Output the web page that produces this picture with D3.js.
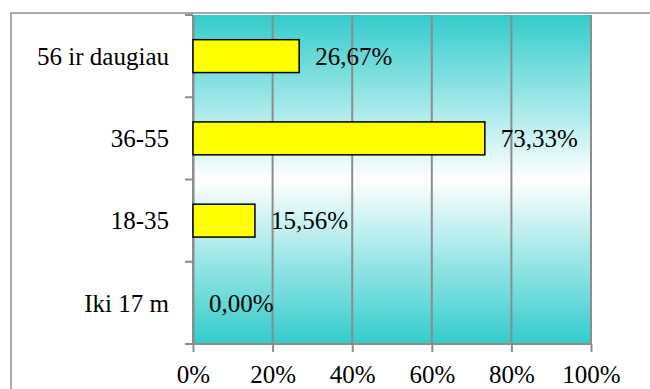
<!DOCTYPE html>
<html>
<head>
<meta charset="utf-8">
<script src="https://cdn.jsdelivr.net/npm/d3@7"></script>
<style>
  html, body { margin: 0; padding: 0; background: #fff; }
  svg { display: block; }
  svg text { font-family: "Times New Roman", "Liberation Serif", Tinos, "DejaVu Serif", serif !important; fill: #000; }
</style>
</head>
<body>
<svg id="chart" width="650" height="389"></svg>
<script>
// Age groups, top to bottom
const categories = ["56 ir daugiau", "36-55", "18-35", "Iki 17 m"];
// Share of respondents (%)
const values = [26.67, 73.33, 15.56, 0.00];
// X axis ticks (%)
const xTicks = [0, 20, 40, 60, 80, 100];

const W = 650, H = 389;
const plot = { left: 193, top: 15, right: 591, bottom: 344 };
const fontSize = 25;

const svg = d3.select("#chart");

// Gradient fill of the plot area: cyan at edges, white in the middle
const defs = svg.append("defs");
const grad = defs.append("linearGradient")
  .attr("id", "plotBg").attr("x1", 0).attr("y1", 0).attr("x2", 0).attr("y2", 1);
grad.append("stop").attr("offset", "0%").attr("stop-color", "#33cccc");
grad.append("stop").attr("offset", "50%").attr("stop-color", "#ffffff");
grad.append("stop").attr("offset", "100%").attr("stop-color", "#33cccc");

// Chart frame
svg.append("rect")
  .attr("x", 11).attr("y", 13).attr("width", W).attr("height", H)
  .attr("fill", "none").attr("stroke", "#8c8c8c").attr("stroke-width", 1.5);

const x = d3.scaleLinear().domain([0, 100]).range([plot.left, plot.right]);
const y = d3.scaleBand().domain(categories).range([plot.top, plot.bottom])
  .paddingInner(0.6).paddingOuter(0.3);

// Plot background
svg.append("rect")
  .attr("x", plot.left).attr("y", plot.top)
  .attr("width", plot.right - plot.left).attr("height", plot.bottom - plot.top)
  .attr("fill", "url(#plotBg)");

// Vertical gridlines
svg.append("g").selectAll("line").data(xTicks).join("line")
  .attr("x1", d => x(d)).attr("x2", d => x(d))
  .attr("y1", plot.top).attr("y2", plot.bottom)
  .attr("stroke", "#8c8c8c").attr("stroke-width", 2);

// Category axis (left)
const yAxis = svg.append("g")
  .attr("transform", `translate(${plot.left},0)`)
  .call(d3.axisLeft(y).tickSize(0).tickPadding(24));
yAxis.attr("font-family", null);
yAxis.select(".domain").attr("stroke", "#8c8c8c").attr("stroke-width", 2);
yAxis.selectAll("text").style("font-size", fontSize + "px").attr("dy", "0.35em");
// Tick marks between categories
const bounds = d3.range(categories.length + 1)
  .map(i => plot.top + i * (plot.bottom - plot.top) / categories.length);
yAxis.selectAll("line.sep").data(bounds).join("line").attr("class", "sep")
  .attr("x1", -8).attr("x2", 0).attr("y1", d => d).attr("y2", d => d)
  .attr("stroke", "#8c8c8c").attr("stroke-width", 2);

// Value axis (bottom)
const xAxis = svg.append("g")
  .attr("transform", `translate(0,${plot.bottom})`)
  .call(d3.axisBottom(x).tickValues(xTicks).tickFormat(d => d + "%").tickSize(8).tickPadding(13));
xAxis.attr("font-family", null);
xAxis.select(".domain").attr("stroke", "#8c8c8c").attr("stroke-width", 2)
  .attr("d", `M${plot.left - 8},0H${plot.right}`);
xAxis.selectAll(".tick line").attr("stroke", "#8c8c8c").attr("stroke-width", 2);
xAxis.selectAll("text").style("font-size", fontSize + "px");

// Bars
svg.append("g").selectAll("rect").data(values).join("rect")
  .attr("x", x(0))
  .attr("y", (d, i) => y(categories[i]))
  .attr("width", d => x(d) - x(0))
  .attr("height", y.bandwidth())
  .attr("fill", "#ffff00")
  .attr("stroke", "#000").attr("stroke-width", 1.5)
  .attr("display", d => d > 0 ? null : "none");

// Value labels
svg.append("g").selectAll("text").data(values).join("text")
  .attr("x", d => x(d) + 16)
  .attr("y", (d, i) => y(categories[i]) + y.bandwidth() / 2)
  .attr("dy", "0.35em")
  .style("font-size", fontSize + "px")
  .text(d => d.toFixed(2).replace(".", ",") + "%");
</script>
</body>
</html>
